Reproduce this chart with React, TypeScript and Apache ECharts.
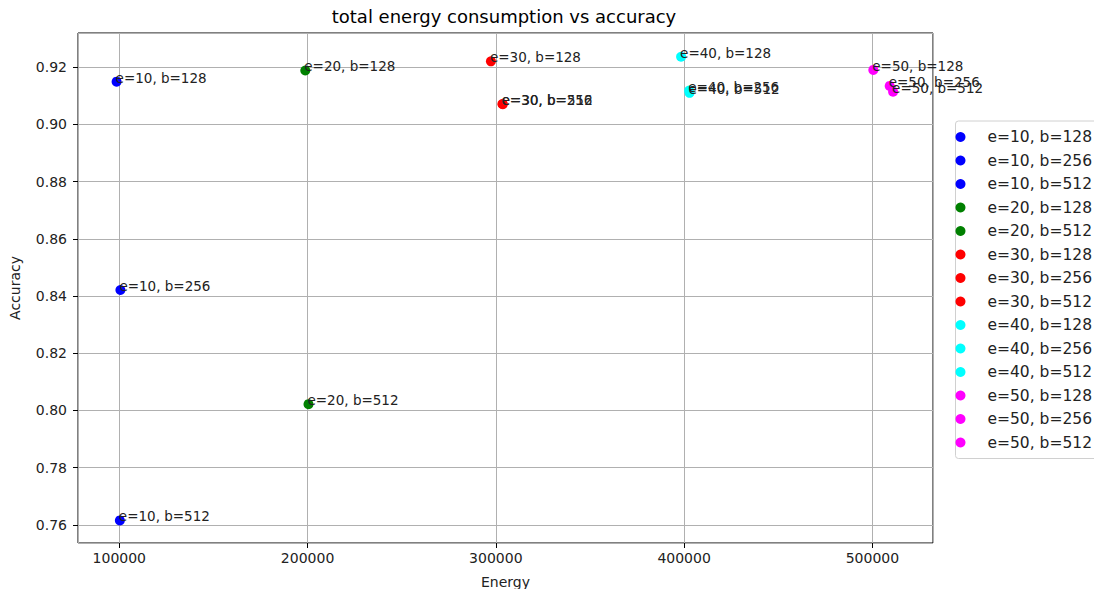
import React, { useEffect, useRef } from "react";
import * as echarts from "echarts";

const labels = [
  "e=10, b=128", "e=10, b=256", "e=10, b=512",
  "e=20, b=128", "e=20, b=512",
  "e=30, b=128", "e=30, b=256", "e=30, b=512",
  "e=40, b=128", "e=40, b=256", "e=40, b=512",
  "e=50, b=128", "e=50, b=256", "e=50, b=512",
];
const energy = [
  98570, 100600, 100300,
  198800, 200500,
  297400, 303500, 303700,
  398400, 402700, 402900,
  500500, 509200, 511000,
];
const accuracy = [
  0.9149, 0.8421, 0.7616,
  0.9188, 0.8022,
  0.9220, 0.9071, 0.9070,
  0.9236, 0.9118, 0.9110,
  0.9190, 0.9134, 0.9114,
];
const colors = [
  "#0000ff", "#0000ff", "#0000ff",
  "#008000", "#008000",
  "#ff0000", "#ff0000", "#ff0000",
  "#00ffff", "#00ffff", "#00ffff",
  "#ff00ff", "#ff00ff", "#ff00ff",
];
const xRange = [78070, 532200];
const yRange = [0.7537, 0.9319];

const FONT = "DejaVu Sans";

export default function App() {
  const ref = useRef<HTMLDivElement>(null);
  useEffect(() => {
    if (!ref.current) return;
    const chart = echarts.init(ref.current, null, { renderer: "svg" });
    const series = labels.map((name, i) => ({
      name,
      type: "scatter",
      symbol: "circle",
      symbolSize: 10,
      itemStyle: { color: colors[i], opacity: 1 },
      data: [[energy[i], accuracy[i]]],
      label: {
        show: true,
        formatter: name,
        position: [5, 5],
        align: "left",
        verticalAlign: "bottom",
        offset: [-1, 3],
        fontFamily: FONT,
        fontSize: 13.5,
        color: "#222",
      },
      z: 3,
    }));
    chart.setOption({
      animation: false,
      backgroundColor: "#fff",
      title: {
        text: "total energy consumption vs accuracy",
        left: 504,
        textAlign: "center",
        top: 7,
        padding: 0,
        textStyle: { fontFamily: FONT, fontSize: 18, fontWeight: "normal", color: "#000" },
      },
      grid: {
        left: 75, right: 169, top: 33, bottom: 54,
        show: true, borderColor: "#000", borderWidth: 1,
      },
      legend: {
        orient: "vertical",
        right: 5,
        top: 121,
        icon: "circle",
        itemWidth: 44,
        itemHeight: 10,
        itemGap: 7.5,
        padding: [8, 5, 8, 0],
        borderColor: "#d0d0d0",
        borderWidth: 1,
        borderRadius: 3,
        textStyle: { fontFamily: FONT, fontSize: 15.5, color: "#222" },
        data: labels,
      },
      xAxis: {
        type: "value",
        min: xRange[0],
        max: xRange[1],
        splitNumber: 5,
        name: "Energy",
        nameLocation: "middle",
        nameGap: 32,
        nameTextStyle: { fontFamily: FONT, fontSize: 14, color: "#222" },
        axisLine: { show: false },
        axisTick: { show: true, length: 5, lineStyle: { color: "#000" } },
        axisLabel: {
          showMinLabel: false, showMaxLabel: false,
          fontFamily: FONT, fontSize: 14, color: "#222", margin: 8,
          formatter: (v: number) => String(Math.round(v)),
        },
        splitLine: { show: true, lineStyle: { color: "#b0b0b0", width: 1 } },
      },
      yAxis: {
        type: "value",
        min: yRange[0],
        max: yRange[1],
        splitNumber: 8,
        name: "Accuracy",
        nameLocation: "middle",
        nameGap: 56,
        nameTextStyle: { fontFamily: FONT, fontSize: 14, color: "#222" },
        axisLine: { show: false },
        axisTick: { show: true, length: 5, lineStyle: { color: "#000" } },
        axisLabel: {
          showMinLabel: false, showMaxLabel: false,
          fontFamily: FONT, fontSize: 14, color: "#222", margin: 11,
          formatter: (v: number) => v.toFixed(2),
        },
        splitLine: { show: true, lineStyle: { color: "#b0b0b0", width: 1 } },
      },
      series,
    });
    return () => chart.dispose();
  }, []);
  return <div ref={ref} style={{ width: 1102, height: 597, margin: -8 }} />;
}
